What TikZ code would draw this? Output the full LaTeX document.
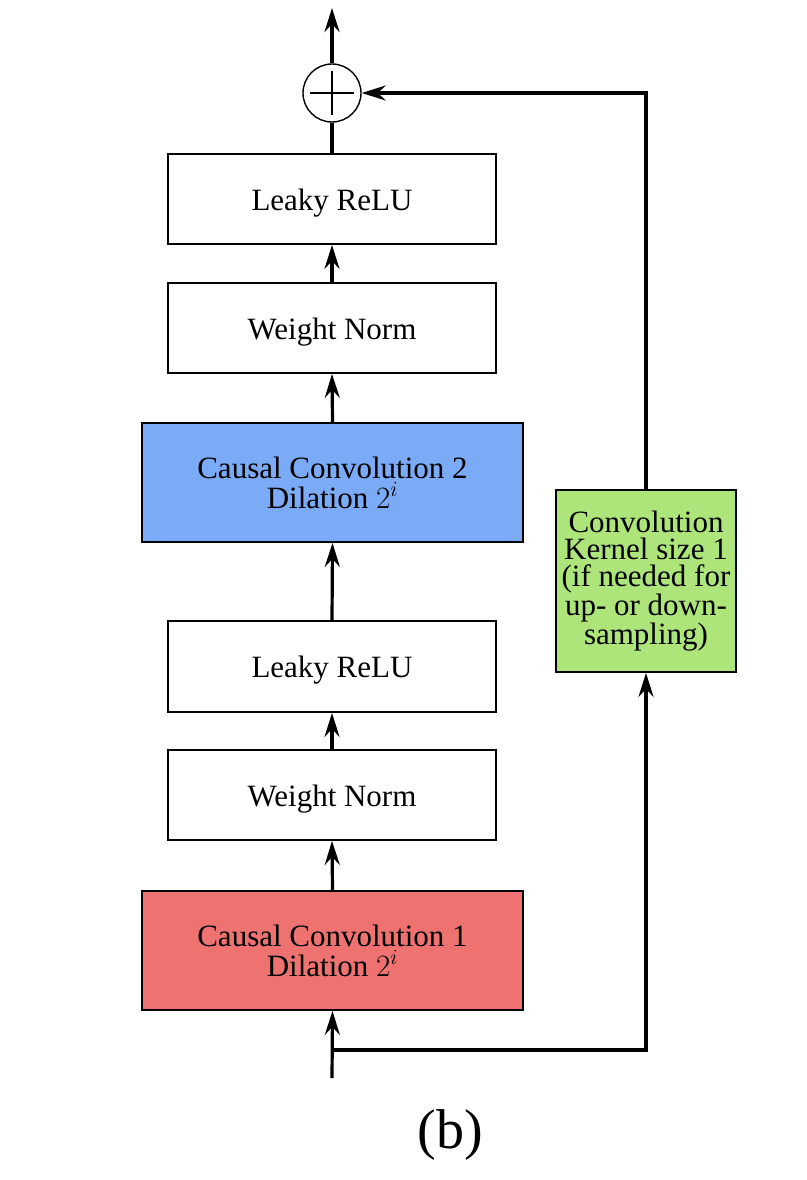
\documentclass[tikz,border=0pt]{standalone}
\usepackage{fix-cm}
\usepackage{fontspec}
\setmainfont{Liberation Serif}
\usetikzlibrary{arrows.meta}
\definecolor{cblue}{HTML}{7BAAF7}
\definecolor{cred}{HTML}{EE7370}
\definecolor{cgreen}{HTML}{AEE57A}
\begin{document}
\begin{tikzpicture}[x=1pt,y=-1pt,
  blk/.style={draw=black,line width=1.8pt,minimum width=328pt,minimum height=90pt,inner sep=0pt,
    font=\fontsize{31}{30}\selectfont,align=center,fill=white},
  one/.style={blk,text height=26pt,text depth=4pt},
  wide/.style={blk,minimum width=381pt,minimum height=119pt},
  conn/.style={line width=3.2pt,-{Stealth[length=24pt,width=15pt,inset=8pt]}},
  plain/.style={line width=3.2pt}]
\useasboundingbox (0,0) rectangle (806,1180);
\node[one] (lr1) at (332,199) {Leaky ReLU};
\node[one] (wn1) at (332,328) {Weight Norm};
\node[wide,fill=cblue] (cc2) at (332.5,482.5) {Causal Convolution 2\\Dilation $2^i$};
\node[one,minimum height=91pt] (lr2) at (332,666.5) {Leaky ReLU};
\node[one] (wn2) at (332,795) {Weight Norm};
\node[wide,fill=cred] (cc1) at (332.5,950.5) {Causal Convolution 1\\Dilation $2^i$};
\node[blk,fill=cgreen,minimum width=180pt,minimum height=182pt,font=\fontsize{31}{27}\selectfont] (gr) at (646,581)
  {Convolution\\Kernel size 1\\(if needed for\\up- or down-\\sampling)};
\node[draw,circle,line width=1.4pt,minimum size=58pt,inner sep=0pt] (sum) at (332,93) {};
\draw[line width=1.2pt] (sum.center) ++(-22,0) -- ++(44,0);
\draw[line width=1.2pt] (sum.center) ++(0,-22) -- ++(0,44);
\coordinate (out) at (332,8);
\coordinate (in) at (332,1078);
\coordinate (br) at (332,1050);
\coordinate (brr) at (646,1050);
\coordinate (top) at (646,93);
\draw[conn] (sum.north) -- (out);
\draw[plain] (lr1.north) -- (sum.south);
\draw[conn] (wn1.north) -- (lr1.south);
\draw[conn] (cc2.north) -- (wn1.south);
\draw[conn] (lr2.north) -- (cc2.south);
\draw[conn] (wn2.north) -- (lr2.south);
\draw[conn] (cc1.north) -- (wn2.south);
\draw[conn] (in) -- (cc1.south);
\draw[conn] (br) -- (brr) -- (gr.south);
\draw[conn] (gr.north) -- (top) -- (sum.east);
\node[font=\fontsize{56}{60}\selectfont,inner sep=0pt] (lbl) at (450,1135) {(b)};
\end{tikzpicture}
\end{document}
